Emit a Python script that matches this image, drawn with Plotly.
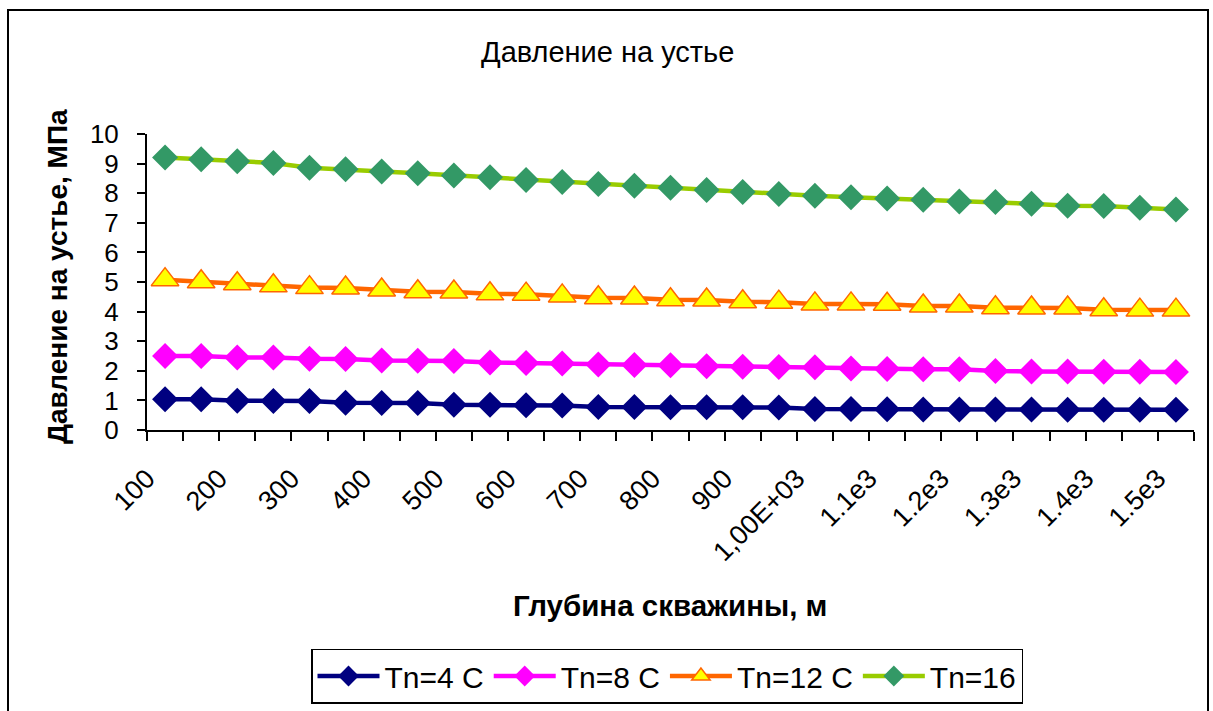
import plotly.graph_objects as go

depth = [100, 150, 200, 250, 300, 350, 400, 450, 500, 550, 600, 650, 700, 750, 800,
         850, 900, 950, 1000, 1050, 1100, 1150, 1200, 1250, 1300, 1350, 1400, 1450, 1500]

tick_vals = [100, 200, 300, 400, 500, 600, 700, 800, 900, 1000, 1100, 1200, 1300, 1400, 1500]
tick_text = ["100", "200", "300", "400", "500", "600", "700", "800", "900",
             "1,00E+03", "1.1e3", "1.2e3", "1.3e3", "1.4e3", "1.5e3"]

tn4 = [1.04, 1.04, 0.99, 0.98, 0.98, 0.92, 0.91, 0.91, 0.85, 0.85, 0.84, 0.83, 0.78, 0.78, 0.77,
       0.77, 0.77, 0.76, 0.71, 0.71, 0.70, 0.69, 0.69, 0.69, 0.69, 0.68, 0.68, 0.68, 0.68]
tn8 = [2.50, 2.50, 2.45, 2.45, 2.41, 2.40, 2.35, 2.34, 2.33, 2.28, 2.26, 2.25, 2.21, 2.20, 2.19,
       2.15, 2.14, 2.13, 2.12, 2.08, 2.06, 2.05, 2.05, 1.99, 1.98, 1.98, 1.97, 1.97, 1.96]
tn12 = [5.08, 5.01, 4.94, 4.87, 4.81, 4.80, 4.73, 4.67, 4.66, 4.60, 4.59, 4.53, 4.47, 4.46, 4.40,
        4.39, 4.33, 4.32, 4.26, 4.26, 4.25, 4.19, 4.19, 4.13, 4.12, 4.12, 4.06, 4.05, 4.05]
tn16 = [9.21, 9.15, 9.08, 9.02, 8.86, 8.81, 8.73, 8.67, 8.60, 8.54, 8.45, 8.38, 8.31, 8.25, 8.18,
        8.11, 8.04, 7.97, 7.91, 7.86, 7.82, 7.78, 7.72, 7.70, 7.64, 7.58, 7.57, 7.51, 7.45]

series_names = ["Tn=4 C", "Tn=8 C", "Tn=12 C", "Tn=16"]

FONT = "Liberation Sans, Arial, sans-serif"

# plot area geometry (pixels)
PL, PR, PT, PB = 147, 1194, 134, 430
PW, PH = PR - PL, PB - PT
X_RANGE = [75, 1525]


def px(xp):
    return (xp - PL) / PW


def py(yp):
    return (PB - yp) / PH


fig = go.Figure()
fig.add_trace(go.Scatter(x=depth, y=tn4, name=series_names[0], mode="lines+markers",
                         line=dict(color="#000080", width=4.5),
                         marker=dict(symbol="diamond", size=20, color="#000080")))
fig.add_trace(go.Scatter(x=depth, y=tn8, name=series_names[1], mode="lines+markers",
                         line=dict(color="#FF00FF", width=4.5),
                         marker=dict(symbol="diamond", size=20, color="#FF00FF")))
fig.add_trace(go.Scatter(x=depth, y=tn12, name=series_names[2], mode="lines+markers",
                         line=dict(color="#FF6600", width=4.5),
                         marker=dict(symbol="triangle-up", size=24, color="#FFFF00",
                                     line=dict(color="#FF6600", width=1.5))))
fig.add_trace(go.Scatter(x=depth, y=tn16, name=series_names[3], mode="lines+markers",
                         line=dict(color="#99CC00", width=4.5),
                         marker=dict(symbol="diamond", size=20, color="#339966")))

fig.update_layout(
    template="none",
    width=1213, height=711,
    margin=dict(l=PL, r=1213 - PR, t=PT, b=711 - PB, autoexpand=False),
    paper_bgcolor="white", plot_bgcolor="white",
    font=dict(family=FONT, color="black"),
    showlegend=True,
    legend=dict(orientation="h", x=px(667), y=py(676),
                xanchor="center", yanchor="middle",
                bordercolor="black", borderwidth=1.5, font=dict(size=30, family=FONT),
                itemwidth=62, tracegroupgap=0, bgcolor="white"),
    xaxis=dict(range=X_RANGE, tickmode="array", tickvals=tick_vals, ticktext=tick_text,
               tickangle=-45, tickfont=dict(size=27, family=FONT), automargin=False,
               showline=True, linecolor="black", linewidth=2, mirror=False,
               ticks="outside", ticklen=0, showgrid=False, zeroline=False,
               ticklabelstandoff=20, ticklabelshift=-18,
               minor=dict(tick0=75, dtick=50, ticks="outside", ticklen=9,
                          tickcolor="black", tickwidth=1.5, showgrid=False)),
    yaxis=dict(range=[0, 10], dtick=1, tickfont=dict(size=26, family=FONT), automargin=False,
               showline=True, linecolor="black", linewidth=2,
               ticks="outside", ticklen=8, tickcolor="black", tickwidth=1.5,
               showgrid=False, zeroline=False, ticklabelstandoff=13),
    annotations=[
        dict(text="Давление на устье", xref="paper", yref="paper", x=px(607),
             y=py(52), xanchor="center", yanchor="middle", showarrow=False,
             font=dict(size=29, family=FONT)),
        dict(text="<b>Давление на устье, МПа</b>", xref="paper", yref="paper",
             x=px(57), y=py(277), xanchor="center", yanchor="middle",
             textangle=-90, showarrow=False, font=dict(size=28, family=FONT)),
        dict(text="<b>Глубина скважины, м</b>", xref="paper", yref="paper",
             x=px(670), y=py(605), xanchor="center", yanchor="middle",
             showarrow=False, font=dict(size=29.5, family=FONT)),
    ],
    shapes=[
        dict(type="rect", xref="paper", yref="paper",
             x0=px(8), x1=px(1208), y0=py(725), y1=py(10),
             line=dict(color="black", width=2), fillcolor="rgba(0,0,0,0)", layer="below"),
    ],
)

fig.write_html("out.html", config={"displayModeBar": False},
               post_script="document.body.style.margin='0px';document.body.style.overflow='hidden';")
